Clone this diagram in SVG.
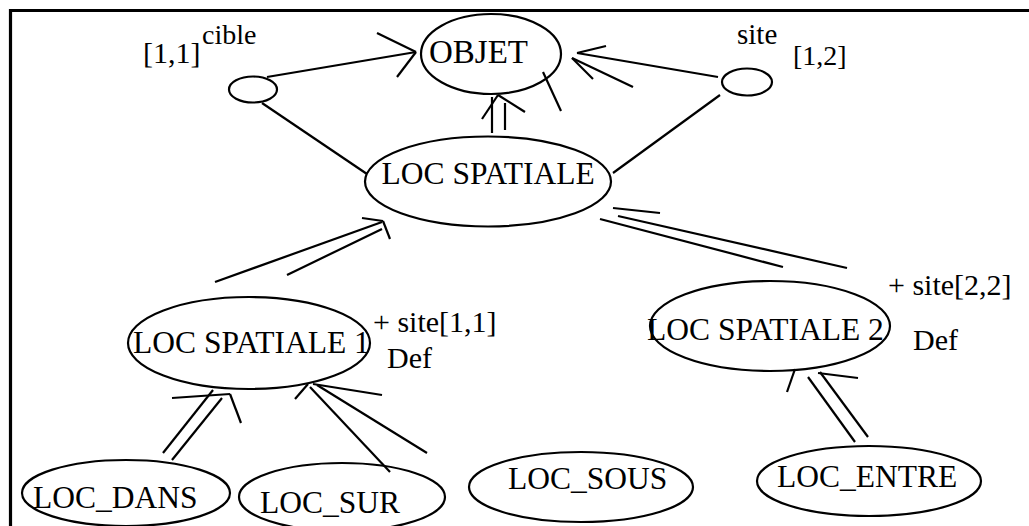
<svg xmlns="http://www.w3.org/2000/svg" width="1029" height="526" viewBox="0 0 1029 526">
<style>
.n{fill:none;stroke:#000;stroke-width:2.2}
.c line{stroke:#000;stroke-width:2.2}
.b{stroke:#000;stroke-width:3.2}
text{font-family:"Liberation Serif","Times New Roman",serif;fill:#000}
.t{font-size:31.5px}
.s{font-size:30px}
</style>
<rect width="1029" height="526" fill="#fff"/>
<line class="b" x1="9" y1="10.5" x2="1029" y2="10.5"/>
<line class="b" x1="10.5" y1="9" x2="10.5" y2="526"/>
<g id="objet"><ellipse class="n" cx="491" cy="54" rx="70" ry="40"/><text x="429" y="63" style="font-size:33px">OBJET</text></g>
<g id="cible"><ellipse class="n" cx="253" cy="89.5" rx="24" ry="13"/><text x="143" y="63" style="font-size:30px">[1,1]</text><text x="202" y="44" style="font-size:28px">cible</text></g>
<g id="site"><ellipse class="n" cx="747" cy="82" rx="25" ry="13.5"/><text x="737" y="44" style="font-size:29px">site</text><text x="793" y="65" style="font-size:28px">[1,2]</text></g>
<g id="loc-spatiale"><ellipse class="n" cx="488" cy="181.5" rx="123" ry="45"/><text class="t" x="381.5" y="184">LOC SPATIALE</text></g>
<g id="loc-spatiale-1"><ellipse class="n" cx="249" cy="343" rx="121" ry="46"/><text class="t" x="133" y="353">LOC SPATIALE 1</text><text class="s" x="373" y="332">+ site[1,1]</text><text class="s" x="387" y="368">Def</text></g>
<g id="loc-spatiale-2"><ellipse class="n" cx="770" cy="326" rx="120" ry="45"/><text class="t" x="647" y="340">LOC SPATIALE 2</text><text class="s" x="888" y="295">+ site[2,2]</text><text class="s" x="913" y="350">Def</text></g>
<g id="loc-dans"><ellipse class="n" cx="126" cy="493" rx="104" ry="33"/><text class="t" x="33" y="508">LOC_DANS</text></g>
<g id="loc-sur"><ellipse class="n" cx="342" cy="497" rx="103" ry="34"/><text class="t" x="260" y="513">LOC_SUR</text></g>
<g id="loc-sous"><ellipse class="n" cx="581" cy="487" rx="112" ry="35"/><text class="t" x="508" y="489">LOC_SOUS</text></g>
<g id="loc-entre"><ellipse class="n" cx="869" cy="481" rx="112" ry="35"/><text class="t" x="777" y="487">LOC_ENTRE</text></g>
<g id="connectors" class="c">
<line x1="267" y1="77" x2="416" y2="52"/>
<line x1="416" y1="52" x2="377" y2="33"/>
<line x1="416" y1="52" x2="397" y2="77"/>
<line x1="262" y1="103" x2="367" y2="174"/>
<line x1="718" y1="77" x2="577" y2="53"/>
<line x1="577" y1="53" x2="606" y2="46"/>
<line x1="633" y1="87" x2="572" y2="58"/>
<line x1="572" y1="58" x2="593" y2="79"/>
<line x1="543" y1="72" x2="561" y2="111"/>
<line x1="720" y1="95" x2="613" y2="173"/>
<line x1="492" y1="133" x2="492" y2="97"/>
<line x1="505" y1="130" x2="505" y2="103"/>
<line x1="482" y1="119" x2="498" y2="95"/>
<line x1="498" y1="95" x2="525" y2="112"/>
<line x1="215" y1="282" x2="382" y2="222"/>
<line x1="287" y1="275" x2="382" y2="229"/>
<line x1="362" y1="218" x2="383" y2="221"/>
<line x1="383" y1="221" x2="390" y2="239"/>
<line x1="613" y1="208" x2="660" y2="213"/>
<line x1="600" y1="219" x2="783" y2="267"/>
<line x1="618" y1="216" x2="847" y2="268"/>
<line x1="795" y1="369" x2="787" y2="392"/>
<line x1="818" y1="373" x2="858" y2="378"/>
<line x1="808" y1="377" x2="855" y2="442"/>
<line x1="820" y1="372" x2="868" y2="437"/>
<line x1="172" y1="398" x2="230" y2="394"/>
<line x1="230" y1="394" x2="241" y2="423"/>
<line x1="163" y1="453" x2="213" y2="390"/>
<line x1="172" y1="460" x2="222" y2="398"/>
<line x1="295" y1="399" x2="308" y2="384"/>
<line x1="313" y1="384" x2="382" y2="395"/>
<line x1="310" y1="387" x2="390" y2="472"/>
<line x1="317" y1="385" x2="427" y2="453"/>
</g>
</svg>
